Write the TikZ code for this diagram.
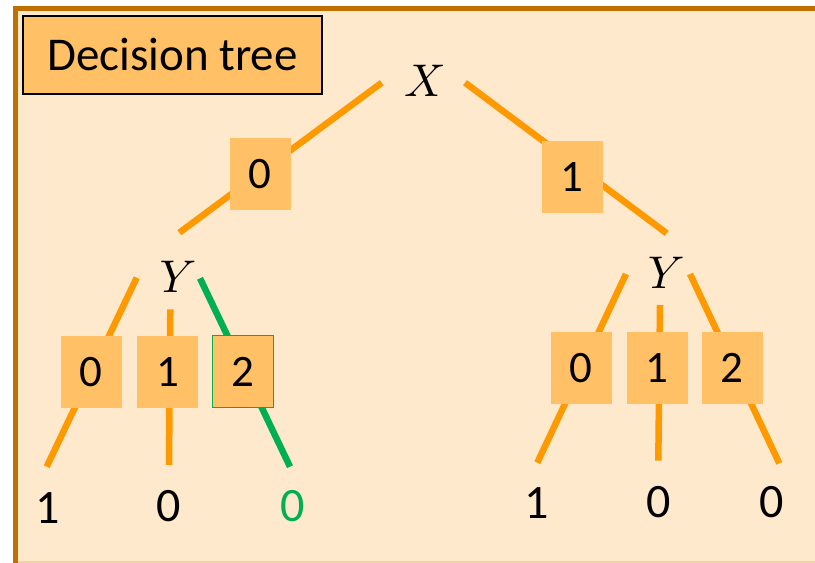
\documentclass[tikz,border=0pt]{standalone}
\usepackage{fontspec}
\setmainfont{Carlito}
\definecolor{panelfill}{RGB}{255,233,204}
\definecolor{panelframe}{RGB}{192,112,0}
\definecolor{panelbase}{RGB}{245,210,158}
\definecolor{boxfill}{RGB}{255,192,102}
\definecolor{branch}{RGB}{255,153,0}
\definecolor{pathgreen}{RGB}{0,176,80}
\begin{document}
\begin{tikzpicture}[x=1bp,y=-1bp,
  titlebox/.style={draw=black,line width=1.3bp,fill=boxfill,inner sep=0pt,
    minimum width=299bp,minimum height=78bp,
    font=\fontsize{47bp}{56bp}\selectfont},
  valbox/.style={fill=boxfill,inner sep=0pt,minimum width=61bp,minimum height=72bp,
    font=\fontsize{45bp}{54bp}\selectfont},
  varnode/.style={inner sep=0pt,font=\fontsize{10bp}{12bp}\selectfont,scale=4.6},
  leaf/.style={inner sep=0pt,font=\fontsize{48bp}{58bp}\selectfont},
  edge/.style={draw=branch,line width=6.5bp,line cap=butt},
  goodedge/.style={draw=pathgreen,line width=6.5bp,line cap=butt}]
\useasboundingbox (0,0) rectangle (815,563);

% panel
\fill[panelfill] (13,6) rectangle (815,563);
\draw[panelbase,line width=1.5bp] (18,562) -- (815,562);
\draw[panelframe,line width=5bp] (815,8.5) -- (15.8,8.5) -- (15.8,563);

% connector end points
\coordinate (X-l)  at (381.7,82.7);
\coordinate (X-r)  at (465,82.7);
\coordinate (YL-t) at (179.3,232.7);
\coordinate (YR-t) at (666.7,233.3);
\coordinate (YL-0) at (136.7,277.7);
\coordinate (YL-1) at (170.3,309.3);
\coordinate (YL-2) at (200,278.3);
\coordinate (YR-0) at (626,274);
\coordinate (YR-1) at (660,305);
\coordinate (YR-2) at (690,274);
\coordinate (LL-0) at (46.7,466.7);
\coordinate (LL-1) at (169,465);
\coordinate (LL-2) at (290,466.7);
\coordinate (LR-0) at (537.3,462.7);
\coordinate (LR-1) at (658.3,460.7);
\coordinate (LR-2) at (779.3,463.3);

% branches
\draw[edge] (X-l) -- (YL-t);
\draw[edge] (X-r) -- (YR-t);
\draw[edge] (YL-0) -- (LL-0);
\draw[edge] (YL-1) -- (LL-1);
\draw[goodedge] (YL-2) -- (LL-2);
\draw[edge] (YR-0) -- (LR-0);
\draw[edge] (YR-1) -- (LR-1);
\draw[edge] (YR-2) -- (LR-2);

% title
\node[titlebox] (title) at (172.5,55) {Decision tree};

% variables
\node[varnode] (X)  at (425,80.5) {$X$};
\node[varnode] (YL) at (178,276.5) {$Y$};
\node[varnode] (YR) at (666.3,272.7) {$Y$};

% branch values
\node[valbox] (vX0) at (260.3,173.8) {0};
\node[valbox] (vX1) at (572.3,176.8) {1};
\node[valbox] (vL0) at (91.3,371.7) {0};
\node[valbox] (vL1) at (167.7,371.7) {1};
\node[valbox,draw=pathgreen,line width=1.3bp] (vL2) at (242.8,371.7) {2};
\node[valbox] (vR0) at (581.3,367.8) {0};
\node[valbox] (vR1) at (657.3,367.8) {1};
\node[valbox] (vR2) at (732.3,367.8) {2};

% leaves
\node[leaf] (oL0) at (47.7,508.3) {1};
\node[leaf] (oL1) at (168.3,505.8) {0};
\node[leaf,text=pathgreen] (oL2) at (292.5,505.8) {0};
\node[leaf] (oR0) at (536.7,503.3) {1};
\node[leaf] (oR1) at (658.3,501.7) {0};
\node[leaf] (oR2) at (771.7,501.7) {0};
\end{tikzpicture}
\end{document}
